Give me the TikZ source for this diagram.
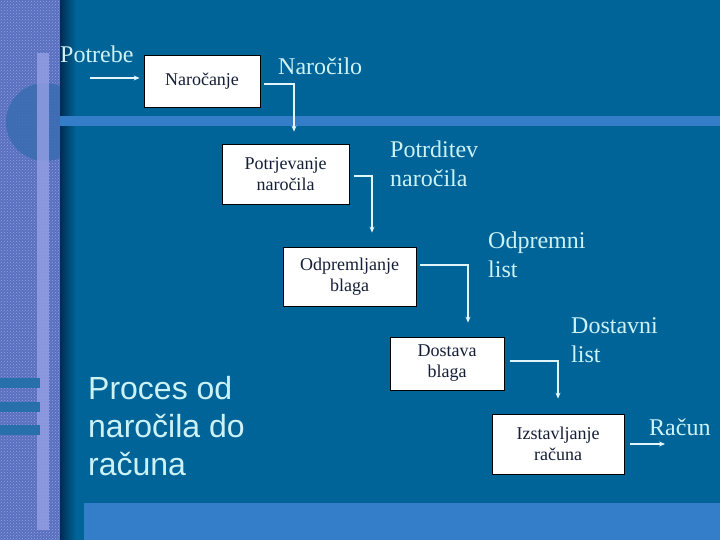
\documentclass[tikz,border=0pt]{standalone}
\usepackage{fontspec}
\setmainfont{Liberation Serif}
\setsansfont{Liberation Sans}
\usepackage{tikz}
\usetikzlibrary{arrows.meta,positioning,patterns}
\usepackage{xcolor}
\definecolor{bgblue}{RGB}{0,100,152}
\definecolor{bandblue}{RGB}{52,125,200}
\definecolor{stripblue}{RGB}{88,112,190}
\definecolor{stripline}{RGB}{150,160,228}
\definecolor{circblue}{RGB}{58,108,178}
\definecolor{barblue}{RGB}{40,112,172}
\definecolor{shadeblue}{RGB}{0,45,85}
\definecolor{labelcyan}{RGB}{205,242,245}
\definecolor{boxtext}{RGB}{20,30,55}
\definecolor{flowwhite}{RGB}{225,245,250}

\begin{document}
\begin{tikzpicture}[x=1pt,y=-1pt,>={Stealth[length=6pt,width=5pt]}]
\tikzstyle{stepbox}=[draw=black,fill=white,line width=.8pt,align=center,inner sep=0pt,font=\fontsize{18}{21}\selectfont,text=boxtext]
\tikzstyle{flowlbl}=[text=labelcyan,align=left,anchor=base west,inner sep=0pt,font=\fontsize{24}{29}\selectfont]
\tikzstyle{flow}=[->,line width=1.6pt,draw=flowwhite]

% background
\fill[bgblue] (0,0) rectangle (720,540);
\fill[stripblue] (0,0) rectangle (60,540);
\fill[pattern=crosshatch dots,pattern color=stripline] (0,0) rectangle (60,540);
\begin{scope}
\clip (0,0) rectangle (60,540);
\fill[circblue,opacity=.85] (45,122) circle (39);
\end{scope}
\fill[stripline,opacity=.8] (37,53) rectangle (49,530);
\foreach \yb in {378,402,425} \fill[barblue] (0,\yb) rectangle (40,\yb+10);
\shade[left color=shadeblue,right color=bgblue] (60,0) rectangle (76,540);
\fill[bandblue] (60,116) rectangle (720,126);
\fill[bandblue] (84,503) rectangle (720,540);
\useasboundingbox (0,0) rectangle (720,540);

% boxes
\node[stepbox,minimum width=116pt,minimum height=52pt] (naro) at (202,81) {Naročanje};
\node[stepbox,minimum width=127pt,minimum height=60pt] (potr) at (285.5,174) {Potrjevanje\\naročila};
\node[stepbox,minimum width=133pt,minimum height=59pt] (odpr) at (349.5,276.5) {Odpremljanje\\blaga};
\node[stepbox,minimum width=114pt,minimum height=53pt] (dost) at (447,363.5) {Dostava\\blaga};
\node[stepbox,minimum width=132pt,minimum height=60pt] (izst) at (558,444) {Izstavljanje\\računa};

% labels (base = last line)
\node[flowlbl] (lpotrebe) at (60,63) {Potrebe};
\node[flowlbl] (lnarocilo) at (278,75) {Naročilo};
\node[flowlbl] (lpotrditev) at (390,187) {Potrditev\\naročila};
\node[flowlbl] (lodpremni) at (488,277) {Odpremni\\list};
\node[flowlbl] (ldostavni) at (571,362) {Dostavni\\list};
\node[flowlbl] (lracun) at (649,435) {Račun};
\node[text=labelcyan,anchor=base west,align=left,inner sep=0pt,font=\sffamily\fontsize{32}{38}\selectfont] (title) at (88,475) {Proces od\\naročila do\\računa};

% flows
\coordinate (potin) at (90,78);
\coordinate (racout) at (665,444);
\draw[flow] (potin)--([xshift=-4pt,yshift=3pt]naro.west);
\draw[flow] ([xshift=4pt,yshift=-3pt]naro.east) -| ([xshift=8.5pt,yshift=12pt]potr.north);
\draw[flow] ([xshift=5pt,yshift=-2pt]potr.east) -| ([xshift=22.5pt,yshift=14pt]odpr.north);
\draw[flow] ([xshift=4pt,yshift=11.5pt]odpr.east) -| ([xshift=21pt,yshift=14pt]dost.north);
\draw[flow] ([xshift=6pt,yshift=2.5pt]dost.east) -| ([yshift=15pt]izst.north);
\draw[flow] ([xshift=6pt]izst.east)--(racout);
\end{tikzpicture}
\end{document}
